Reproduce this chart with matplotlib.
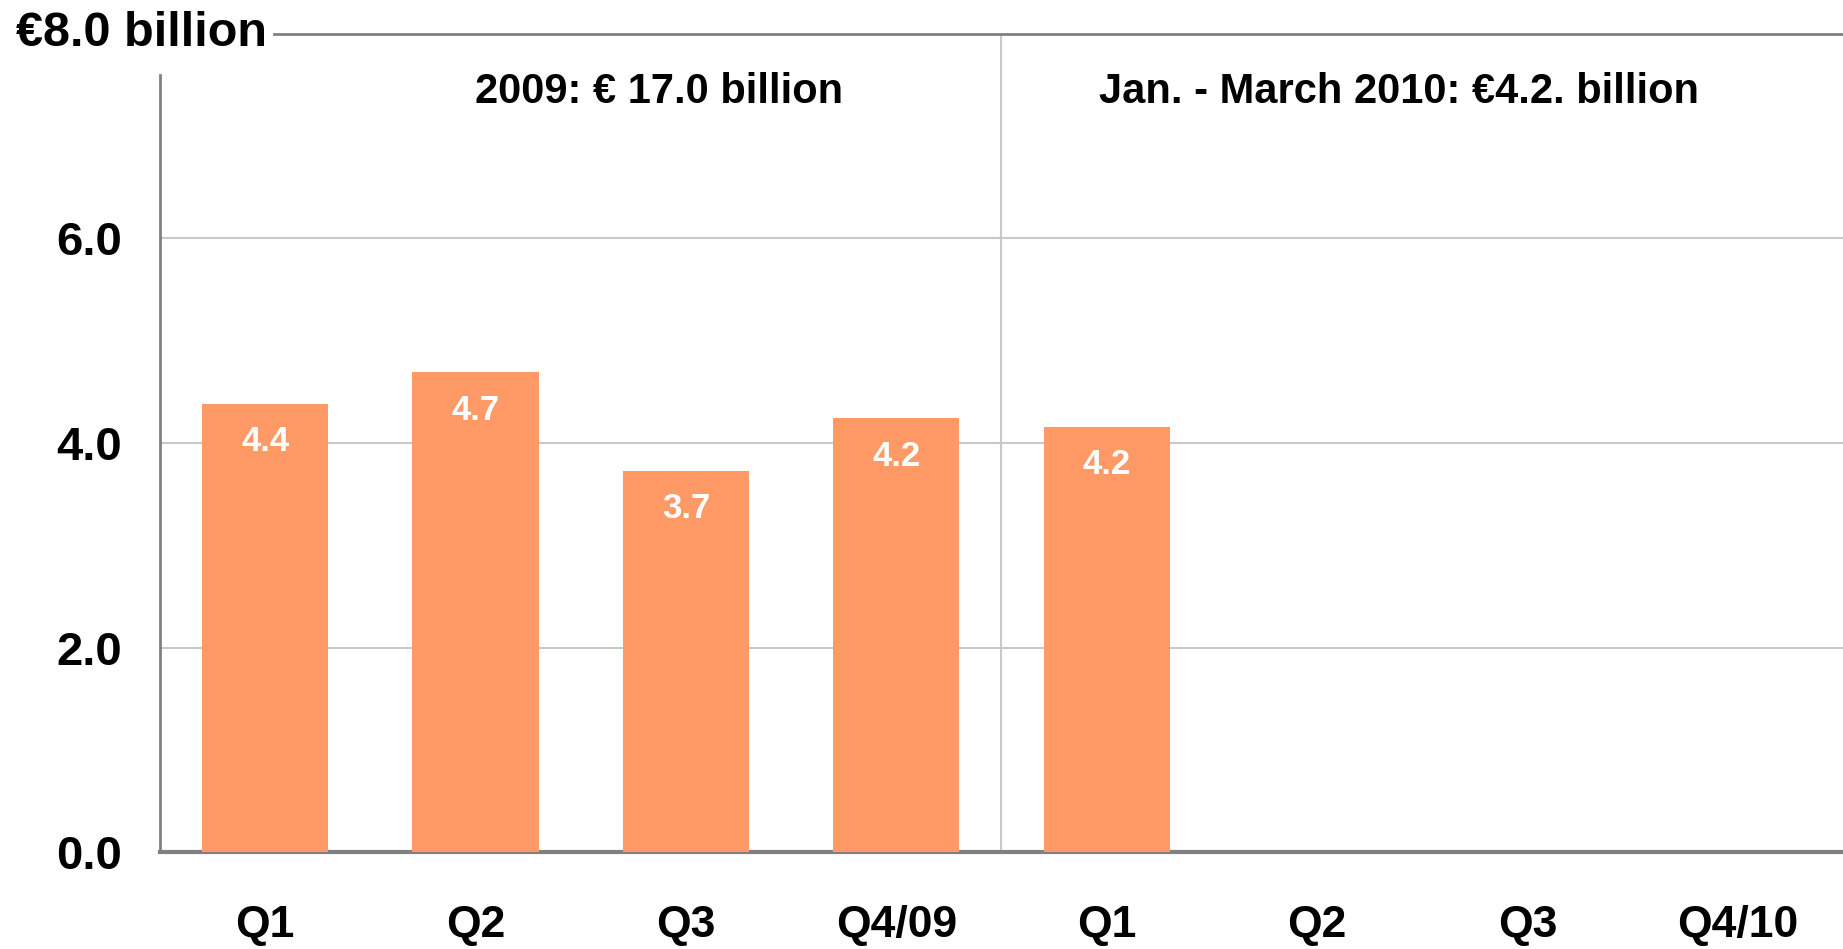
import matplotlib
matplotlib.use("Agg")
import matplotlib.pyplot as plt

# data
quarters = ["Q1", "Q2", "Q3", "Q4/09", "Q1", "Q2", "Q3", "Q4/10"]
values = [4.38, 4.69, 3.73, 4.24, 4.16]
value_labels = ["4.4", "4.7", "3.7", "4.2", "4.2"]
y_ticks = [0, 2, 4, 6]
y_tick_labels = ["0.0", "2.0", "4.0", "6.0"]
top_label = "\u20ac8.0 billion"
header_2009 = "2009: \u20ac 17.0 billion"
header_2010 = "Jan. - March 2010: \u20ac4.2. billion"

BAR_COLOR = "#FF9966"
GRID_COLOR = "#C8C8C8"
AXIS_COLOR = "#808080"

plt.rcParams["font.family"] = ["Liberation Sans", "DejaVu Sans"]
plt.rcParams["font.weight"] = "bold"

fig = plt.figure(figsize=(18.43, 9.49), dpi=100)
ax = fig.add_axes([0.0868, 0.1022, 0.9132, 0.862])

x = list(range(len(values)))
bars = ax.bar(x, values, width=0.6, color=BAR_COLOR, zorder=3)
for xi, v, lab in zip(x, values, value_labels):
    ax.text(xi, v - 0.37, lab, ha="center", va="center", color="white",
            fontsize=25, fontweight="bold", zorder=4)

ax.set_xlim(-0.5, len(quarters) - 0.5)
ax.set_ylim(0, 8)

ax.set_xticks(range(len(quarters)))
ax.set_xticklabels(quarters, fontsize=32, fontweight="bold")
ax.set_yticks(y_ticks)
ax.set_yticklabels(y_tick_labels, fontsize=34, fontweight="bold")
ax.tick_params(axis="both", length=0)
ax.tick_params(axis="x", pad=38)
ax.tick_params(axis="y", pad=27)

for y in [2, 4, 6]:
    ax.axhline(y, color=GRID_COLOR, lw=1.5, zorder=1)
ax.axhline(8, xmin=0.068, xmax=1.0, color=AXIS_COLOR, lw=2, zorder=2,
           clip_on=False)
ax.axvline(3.5, color=GRID_COLOR, lw=1.5, zorder=1)

for side in ["top", "right"]:
    ax.spines[side].set_visible(False)
ax.spines["left"].set_color(AXIS_COLOR)
ax.spines["left"].set_linewidth(2)
ax.spines["left"].set_bounds(0, 7.6)
ax.spines["bottom"].set_color(AXIS_COLOR)
ax.spines["bottom"].set_linewidth(3)

ax.text(-0.0856, 8, top_label, transform=ax.get_yaxis_transform(),
        ha="left", va="center", fontsize=35, fontweight="bold", clip_on=False)
ax.text(1.87, 7.43, header_2009, ha="center", va="center",
        fontsize=30, fontweight="bold")
ax.text(5.39, 7.43, header_2010, ha="center", va="center",
        fontsize=30, fontweight="bold")

fig.savefig("out.png", dpi=100)
